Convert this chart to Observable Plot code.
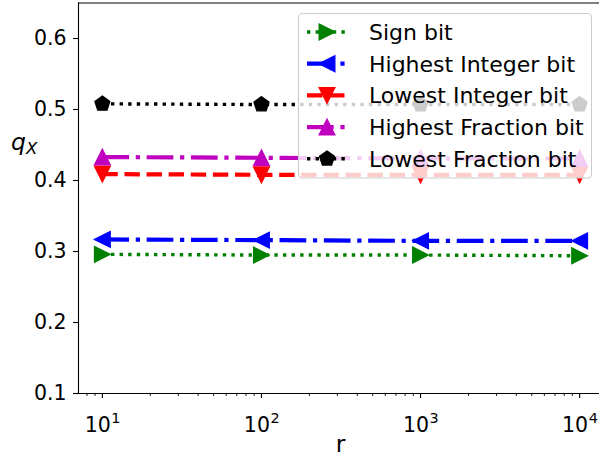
<!DOCTYPE html>
<html><head><meta charset="utf-8">
<script src="https://cdn.jsdelivr.net/npm/d3@7"></script>
<script src="https://cdn.jsdelivr.net/npm/@observablehq/plot@0.6"></script>
<style>
html,body{margin:0;padding:0;background:#fff;}
#chart{width:599px;height:459px;overflow:hidden;position:relative;}
</style></head><body><div id="chart"></div>
<script>
// ---- data ----
const rValues = [10, 100, 1000, 10000];
const seriesNames = ["Sign bit", "Highest Integer bit", "Lowest Integer bit", "Highest Fraction bit", "Lowest Fraction bit"];
const signBit = [0.296, 0.295, 0.295, 0.294];
const highestIntegerBit = [0.317, 0.316, 0.315, 0.315];
const lowestIntegerBit = [0.409, 0.408, 0.408, 0.408];
const highestFractionBit = [0.433, 0.432, 0.431, 0.431];
const lowestFractionBit = [0.508, 0.507, 0.507, 0.507];
const yTicks = [0.1, 0.2, 0.3, 0.4, 0.5, 0.6];
const xTicks = [10, 100, 1000, 10000];
const xTickExponents = ["1", "2", "3", "4"];
const xMinorTicks = [8, 9, 20, 30, 40, 50, 60, 70, 80, 90, 200, 300, 400, 500, 600, 700, 800, 900, 2000, 3000, 4000, 5000, 6000, 7000, 8000, 9000];

// ---- styles ----
function tri(dir) {
  return {draw(ctx, size) {
    const r = Math.sqrt(size / Math.PI);
    const p = {up: [[0, -r], [-r, r], [r, r]], down: [[0, r], [-r, -r], [r, -r]],
               left: [[-r, 0], [r, -r], [r, r]], right: [[r, 0], [-r, -r], [-r, r]]}[dir];
    ctx.moveTo(p[0][0], p[0][1]); ctx.lineTo(p[1][0], p[1][1]); ctx.lineTo(p[2][0], p[2][1]); ctx.closePath();
  }};
}
const pentagon = {draw(ctx, size) {
  const r = Math.sqrt(size / Math.PI);
  for (let i = 0; i < 5; i++) {
    const a = -Math.PI / 2 + i * 2 * Math.PI / 5;
    const x = r * Math.cos(a), y = r * Math.sin(a);
    if (i) ctx.lineTo(x, y); else ctx.moveTo(x, y);
  }
  ctx.closePath();
}};
const dotted = "3.4,5.2", dashed = "15.4,6.7", dashdot = "26.7,6.7,4.2,6.7";
const styles = [
  {color: "#008000", dash: dotted, lw: 3.4, symbol: tri("right")},
  {color: "#0000ff", dash: dashdot, lw: 4.2, symbol: tri("left")},
  {color: "#ff0000", dash: dashed, lw: 4.2, symbol: tri("down")},
  {color: "#bf00bf", dash: dashdot, lw: 4.2, symbol: tri("up")},
  {color: "#000000", dash: dotted, lw: 3.4, symbol: pentagon}
];
const allValues = [signBit, highestIntegerBit, lowestIntegerBit, highestFractionBit, lowestFractionBit];
const series = seriesNames.map((name, i) => ({
  name, ...styles[i],
  data: rValues.map((r, j) => ({r, q: allValues[i][j]}))
}));

const MR = 7.8;
const font = "DejaVu Sans";
const xDomain = [Math.pow(10, 0.85), Math.pow(10, 4.15)];

const marks = [
  Plot.ruleY([0.1, 0.65], {stroke: "#000", strokeWidth: 1.1}),
  Plot.ruleX([xDomain[0]], {stroke: "#000", strokeWidth: 1.1}),
  Plot.axisX({ticks: xMinorTicks, tickSize: 2.8, tickFormat: () => "", strokeWidth: 1, label: null}),
  Plot.axisX({ticks: xTicks, tickSize: 5, tickFormat: () => "", strokeWidth: 1.1, label: null}),
  Plot.axisY({ticks: yTicks, tickSize: 5, tickPadding: 7, strokeWidth: 1.1, tickFormat: d3.format(".1f"), fontSize: 20.5, label: null}),
  Plot.text(xTicks, {x: d => d, frameAnchor: "bottom", text: () => "10", textAnchor: "end", dx: 8.5, dy: 38, lineAnchor: "bottom", fontSize: 20.5, fill: "#000"}),
  Plot.text(xTicks, {x: d => d, frameAnchor: "bottom", text: (d, i) => xTickExponents[i], textAnchor: "start", dx: 9, dy: 29, lineAnchor: "bottom", fontSize: 14.4, fill: "#000"})
];
series.forEach(s => {
  marks.push(Plot.line(s.data, {x: "r", y: "q", stroke: s.color, strokeWidth: s.lw, strokeDasharray: s.dash, strokeLinecap: "butt"}));
  marks.push(Plot.dot(s.data, {x: "r", y: "q", symbol: s.symbol, r: MR, fill: s.color, stroke: s.color, strokeWidth: 1.4}));
});

const chart = Plot.plot({
  width: 599, height: 459,
  marginLeft: 78, marginTop: 2.5, marginBottom: 66, marginRight: 0,
  style: {fontFamily: font, fontSize: "20.5px", background: "#fff", overflow: "hidden"},
  x: {type: "log", domain: xDomain, range: [78, 603]},
  y: {domain: [0.1, 0.65], range: [393, 2.5]},
  marks
});
document.getElementById("chart").appendChild(chart);

const svg = d3.select(chart);
// axis labels
svg.append("text").attr("x", 340.5).attr("y", 452).attr("text-anchor", "middle")
  .attr("font-family", font).attr("font-size", 23.5).attr("fill", "#000").text("r");
const yl = svg.append("text").attr("x", 11).attr("y", 150).attr("text-anchor", "start").attr("font-family", font)
  .attr("font-style", "italic").attr("font-size", 23.5).attr("fill", "#000");
yl.append("tspan").text("q");
yl.append("tspan").attr("font-size", 16.5).attr("dy", 4).text("X");

// legend
const lg = svg.append("g").attr("text-anchor", "start");
lg.append("rect").attr("x", 298.5).attr("y", 13.5).attr("width", 293).attr("height", 164.5).attr("rx", 4)
  .attr("fill", "#fff").attr("fill-opacity", 0.8).attr("stroke", "#ccc").attr("stroke-width", 1.1);
series.forEach((s, i) => {
  const cy = 32 + i * 31.7;
  lg.append("line").attr("x1", 307).attr("x2", 347).attr("y1", cy).attr("y2", cy)
    .attr("stroke", s.color).attr("stroke-width", s.lw).attr("stroke-dasharray", s.dash);
  lg.append("path").attr("d", d3.symbol(s.symbol, MR * MR * Math.PI)()).attr("transform", `translate(327,${cy})`)
    .attr("fill", s.color).attr("stroke", s.color).attr("stroke-width", 1.4);
  lg.append("text").attr("x", 369).attr("y", cy).attr("dy", "0.36em").attr("text-anchor", "start")
    .attr("font-family", font).attr("font-size", 22).attr("fill", "#000").text(s.name);
});
</script></body></html>
